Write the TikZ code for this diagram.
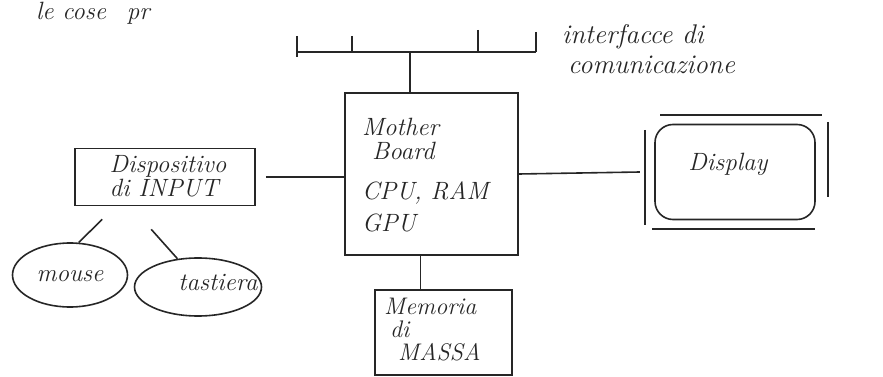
\documentclass[tikz,border=0pt]{standalone}
\usepackage{fontspec}
\usetikzlibrary{shapes.geometric,calc}
\tikzset{
  ink/.style={line width=1.6pt, draw=black!85},
  box/.style={ink, rectangle, inner sep=0pt},
  blob/.style={ink, ellipse, inner sep=0pt},
  hand/.style={font=\fontsize{25}{24}\selectfont\itshape\addfontfeatures{LetterSpace=16}, text=black!85, align=left, inner sep=0pt},
  widehand/.style={hand, font=\fontsize{27}{30}\selectfont\itshape\addfontfeatures{LetterSpace=28}},
}
\begin{document}
\begin{tikzpicture}[x=1pt,y=-1pt]
\useasboundingbox (0,0) rectangle (883,377);

% partly visible text at the top
\node[hand, anchor=base west] (top) at (36,20) {le cose \hspace*{12pt}pr};

% bus of communication interfaces
\coordinate (busL) at (297,52);
\coordinate (busR) at (536,52);
\coordinate (bus) at (410,52);
\draw[ink] (busL) -- (busR);
\draw[ink] (297,36) -- (297,57);
\draw[ink] (352,36) -- (352,52);
\draw[ink] (478,30) -- (478,51);
\draw[ink] (536,32) -- (536,52);
\node[widehand, anchor=north west] (busText) at (562,24) {interfacce di\\\hspace*{6pt}comunicazione};

% mother board
\node[box, minimum width=173pt, minimum height=162pt] (mb) at (431.5,174) {};
\node[hand, anchor=north west] (mbText) at (362,118) {Mother\\\hspace*{10pt}Board\\[16pt]CPU, RAM\\[8pt]GPU};

% input devices
\node[box, minimum width=180pt, minimum height=57pt] (inp) at (165,177) {};
\node[hand, anchor=center] (inpText) at (168,176) {Dispositivo\\di INPUT};
\node[blob, minimum width=115pt, minimum height=64pt] (mouse) at (70,275) {};
\node[hand] (mouseText) at (70,276) {mouse};
\node[blob, minimum width=127pt, minimum height=58pt] (tast) at (198,287) {};
\node[hand] (tastText) at (218,282) {tastiera};

% mass memory
\node[box, minimum width=137pt, minimum height=85pt] (mem) at (443.5,332.5) {};
\node[hand, font=\fontsize{24}{23}\selectfont\itshape\addfontfeatures{LetterSpace=16}, anchor=north west] (memText) at (384,298) {Memoria\\\hspace*{6pt}di\\\hspace*{14pt}MASSA};

% display
\node[box, rounded corners=18pt, minimum width=160pt, minimum height=95pt] (disp) at (735,172) {};
\node[hand] (dispText) at (728,164) {Display};
\node[minimum width=183pt, minimum height=114pt, inner sep=0pt] (dframe) at (736.5,172) {};
\draw[ink] (660,115) -- (822,115);
\draw[ink] (dframe.west |- 0,130) -- (dframe.west |- 0,225);
\draw[ink] (828,122) -- (828,197);
\draw[ink] (652,229) -- (815,229);

% connectors
\draw[ink] (bus) -- (bus |- mb.north);
\draw[ink] ([xshift=10pt]inp.east) -- (inp.east -| mb.west);
\draw[ink] (mb.east) -- ([xshift=-5pt]dframe.west);
\draw[ink] ([xshift=-11pt]mb.south) -- ([xshift=-11pt]mb.south |- mem.north);
\coordinate (m1) at ($(inp.south west)+(28,13)$);
\coordinate (t1) at ($(inp.south west)+(77,23)$);
\draw[ink] (m1) -- (mouse.75);
\draw[ink] (t1) -- (tast.126);
\end{tikzpicture}
\end{document}
